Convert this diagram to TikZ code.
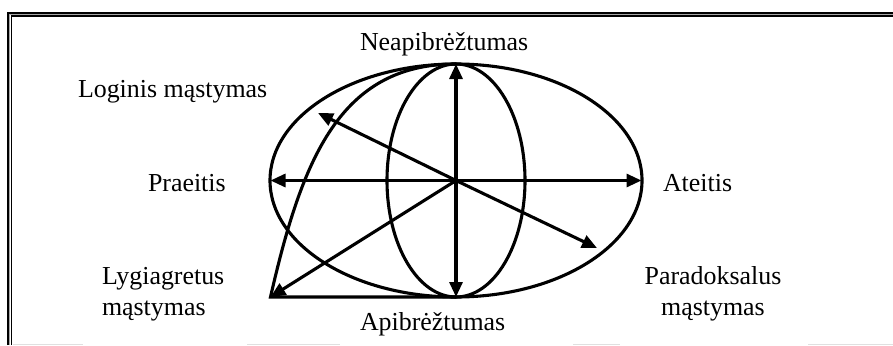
\documentclass[tikz,border=0pt]{standalone}
\usepackage{fontspec}
\setmainfont{Liberation Serif}
\usetikzlibrary{arrows.meta}
\begin{document}
\begin{tikzpicture}[x=1pt,y=-1pt,
  lbl/.style={font=\fontsize{25.9}{31}\selectfont, inner sep=0pt, outer sep=0pt},
  arr/.style={line width=3.1pt, -{Triangle[length=15pt,width=13pt]}},
  outline/.style={line width=3.1pt},
  faint/.style={line width=1pt, black!12}]
\useasboundingbox (0,0) rectangle (893,345);
% frame
\draw[line width=1.7pt] (8.2,345) -- (8.2,12.8) -- (893,12.8);
\draw[line width=1.1pt, black!35] (9.85,345) -- (9.85,14.45) -- (893,14.45);
\draw[line width=1.5pt] (11.5,345) -- (11.5,16.1) -- (893,16.1);
\draw[faint] (13,344) -- (83,344);
\draw[faint] (247,344) -- (340,344);
\draw[faint] (573,344) -- (620,344);
\draw[faint] (808,344) -- (893,344);
% coordinates
\coordinate (C) at (456,180.5);
\coordinate (T) at (456,64);
\coordinate (B) at (456,297);
\coordinate (L) at (270.5,180.5);
\coordinate (R) at (641.5,180.5);
\coordinate (K) at (270.5,297);
\coordinate (UL) at (318,113);
\coordinate (LR) at (597,248);
% shapes
\draw[outline] (C) ellipse [x radius=186, y radius=116.5];
\draw[outline] (C) ellipse [x radius=69, y radius=116.5];
\draw[outline] (T) .. controls (340,64) and (302,159) .. (K) -- (B);
% arrows
\draw[arr] (C) -- (T);
\draw[arr] (C) -- (B);
\draw[arr] (C) -- (L);
\draw[arr] (C) -- (R);
\draw[arr] (C) -- (UL);
\draw[arr] (C) -- (LR);
\draw[arr] (C) -- (K);
% labels
\node[lbl, anchor=base west] (neap) at (360,50) {Neapibrėžtumas};
\node[lbl, anchor=base west] (logi) at (78,97) {Loginis mąstymas};
\node[lbl, anchor=base west] (prae) at (148,191) {Praeitis};
\node[lbl, anchor=base west] (atei) at (663,191) {Ateitis};
\node[lbl, anchor=base west, align=left] (lygi) at (102,315) {Lygiagretus\\mąstymas};
\node[lbl, anchor=base, align=center] (para) at (713,315) {Paradoksalus\\mąstymas};
\node[lbl, anchor=base west] (apib) at (360,330) {Apibrėžtumas};
\end{tikzpicture}
\end{document}
